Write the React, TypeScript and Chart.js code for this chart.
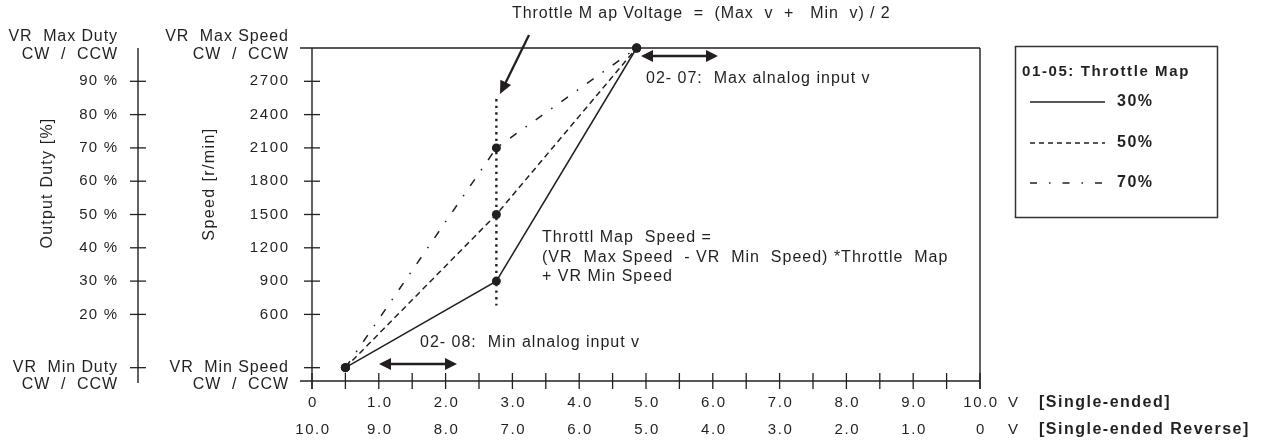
import React, { useEffect, useRef } from 'react';
import { Chart, registerables } from 'chart.js';

Chart.register(...registerables);

// ---- data ----
const voltTicks = [0, 0.5, 1, 1.5, 2, 2.5, 3, 3.5, 4, 4.5, 5, 5.5, 6, 6.5, 7, 7.5, 8, 8.5, 9, 9.5, 10];
const voltLabelValues = [0, 1, 2, 3, 4, 5, 6, 7, 8, 9, 10];
const singleEndedLabels = ['0', '1.0', '2.0', '3.0', '4.0', '5.0', '6.0', '7.0', '8.0', '9.0', '10.0'];
const reverseLabels = ['10.0', '9.0', '8.0', '7.0', '6.0', '5.0', '4.0', '3.0', '2.0', '1.0', '0'];
const speedTicks = [600, 900, 1200, 1500, 1800, 2100, 2400, 2700];
const speedLabels = ['600', '900', '1200', '1500', '1800', '2100', '2400', '2700'];
const dutyLabels = ['20 %', '30 %', '40 %', '50 %', '60 %', '70 %', '80 %', '90 %'];
const minSpeed = 120;
const maxSpeed = 3000;
const inputVolts = [0.5, 2.76, 4.86];
const speed30 = [120, 900, 3000];
const speed50 = [120, 1500, 3000];
const speed70 = [120, 2100, 3000];
const mapVoltageRange = [680, 2540];
const legendLabels = ['30%', '50%', '70%'];

const INK = '#231f20';
const FONT = '"Liberation Sans", Arial, sans-serif';

function pts(ys: number[]) {
  return inputVolts.map((x, i) => ({ x, y: ys[i] }));
}

function txt(ctx: CanvasRenderingContext2D, s: string, x: number, y: number, align: CanvasTextAlign, size: number, bold = false, ls = 1.5) {
  ctx.save();
  ctx.font = `${bold ? 'bold ' : ''}${size}px ${FONT}`;
  (ctx as any).letterSpacing = `${ls}px`;
  ctx.textAlign = align;
  ctx.textBaseline = 'middle';
  ctx.fillStyle = INK;
  ctx.fillText(s, align === 'right' ? x + ls : x, y);
  ctx.restore();
}

function line(ctx: CanvasRenderingContext2D, x1: number, y1: number, x2: number, y2: number, w = 1.2, dash: number[] = []) {
  ctx.save();
  ctx.strokeStyle = INK;
  ctx.lineWidth = w;
  ctx.setLineDash(dash);
  ctx.beginPath();
  ctx.moveTo(x1, y1);
  ctx.lineTo(x2, y2);
  ctx.stroke();
  ctx.restore();
}

function head(ctx: CanvasRenderingContext2D, tx: number, ty: number, fx: number, fy: number, len = 11, half = 5) {
  const a = Math.atan2(ty - fy, tx - fx);
  ctx.save();
  ctx.fillStyle = INK;
  ctx.beginPath();
  ctx.moveTo(tx, ty);
  ctx.lineTo(tx - len * Math.cos(a) + half * Math.sin(a), ty - len * Math.sin(a) - half * Math.cos(a));
  ctx.lineTo(tx - len * Math.cos(a) - half * Math.sin(a), ty - len * Math.sin(a) + half * Math.cos(a));
  ctx.closePath();
  ctx.fill();
  ctx.restore();
}

function doubleArrow(ctx: CanvasRenderingContext2D, x1: number, x2: number, y: number) {
  line(ctx, x1 + 8, y, x2 - 8, y, 2.4);
  head(ctx, x1, y, x2, y, 12, 6);
  head(ctx, x2, y, x1, y, 12, 6);
}

const decor = {
  id: 'decor',
  beforeDatasetsDraw(chart: any) {
    const ctx: CanvasRenderingContext2D = chart.ctx;
    const { left, right, top, bottom } = chart.chartArea;
    const xs = chart.scales.x;
    const ys = chart.scales.y;

    // frame / axes
    line(ctx, left - 12, top, right, top, 1.4);
    line(ctx, left - 12, bottom, right, bottom, 1.4);
    line(ctx, right, top, right, bottom + 8, 1.4);
    line(ctx, left, top, left, bottom + 8, 1.4);
    for (const v of voltTicks) {
      const px = xs.getPixelForValue(v);
      line(ctx, px, bottom - 8, px, bottom + 8, 1.3);
    }
    const dutyX = 138;
    line(ctx, dutyX, top, dutyX, bottom + 2, 1.4);
    for (const v of [...speedTicks, minSpeed]) {
      const py = ys.getPixelForValue(v);
      line(ctx, left - 8, py, left + 8, py, 1.3);
      line(ctx, dutyX - 8, py, dutyX + 8, py, 1.3);
    }
    speedTicks.forEach((v, i) => {
      const py = ys.getPixelForValue(v);
      txt(ctx, speedLabels[i], 288, py, 'right', 15, false, 1.6);
      txt(ctx, dutyLabels[i], 117, py, 'right', 15, false, 1.2);
    });
    const yMin = ys.getPixelForValue(minSpeed);
    txt(ctx, 'VR  Min Speed', 288, yMin, 'right', 16, false, 0.9);
    txt(ctx, 'CW  /  CCW', 288, yMin + 17, 'right', 16, false, 0.9);
    txt(ctx, 'VR  Min Duty', 117, yMin, 'right', 16, false, 0.9);
    txt(ctx, 'CW  /  CCW', 117, yMin + 17, 'right', 16, false, 0.9);
    txt(ctx, 'VR  Max Speed', 288, 37, 'right', 16, false, 0.9);
    txt(ctx, 'CW  /  CCW', 288, 55, 'right', 16, false, 0.9);
    txt(ctx, 'VR  Max Duty', 117, 37, 'right', 16, false, 0.9);
    txt(ctx, 'CW  /  CCW', 117, 55, 'right', 16, false, 0.9);

    // rotated axis titles
    ctx.save();
    ctx.translate(48, 183);
    ctx.rotate(-Math.PI / 2);
    txt(ctx, 'Output Duty [%]', 0, 0, 'center', 16, false, 1.2);
    ctx.restore();
    ctx.save();
    ctx.translate(210, 184);
    ctx.rotate(-Math.PI / 2);
    txt(ctx, 'Speed [r/min]', 0, 0, 'center', 16, false, 1.4);
    ctx.restore();

    // x labels
    voltLabelValues.forEach((v, i) => {
      const px = xs.getPixelForValue(v);
      txt(ctx, singleEndedLabels[i], px + 1, 403, 'center', 15, false, 1.6);
      txt(ctx, reverseLabels[i], px + 1, 430, 'center', 15, false, 1.6);
    });
    txt(ctx, 'V', 1013, 403, 'center', 15, false, 0);
    txt(ctx, 'V', 1013, 430, 'center', 15, false, 0);
    txt(ctx, '[Single-ended]', 1039, 403, 'left', 16, true, 1.5);
    txt(ctx, '[Single-ended Reverse]', 1039, 430, 'left', 16, true, 1.5);

    // map voltage dotted line
    const mx = xs.getPixelForValue(inputVolts[1]);
    line(ctx, mx, ys.getPixelForValue(mapVoltageRange[1]), mx, ys.getPixelForValue(mapVoltageRange[0]), 2.4, [2.4, 4.2]);

    // annotations
    txt(ctx, 'Throttle M ap Voltage  =  (Max  v  +   Min  v) / 2', 512, 14, 'left', 16, false, 0.9);
    line(ctx, 529, 35, 503, 88, 2.3);
    head(ctx, 500, 94, 529, 35, 13, 6);

    doubleArrow(ctx, 641, 718, 56);
    txt(ctx, '02- 07:  Max alnalog input v', 646, 79, 'left', 16, false, 1);
    doubleArrow(ctx, 379, 457, 364);
    txt(ctx, '02- 08:  Min alnalog input v', 420, 343, 'left', 16, false, 1);

    txt(ctx, 'Throttl Map  Speed =', 542, 238, 'left', 16, false, 1);
    txt(ctx, '(VR  Max Speed  - VR  Min  Speed) *Throttle  Map', 542, 258, 'left', 16, false, 1);
    txt(ctx, '+ VR Min Speed', 542, 277, 'left', 16, false, 1);

    // legend box
    ctx.save();
    ctx.strokeStyle = '#333';
    ctx.lineWidth = 1.5;
    ctx.strokeRect(1015.5, 46.5, 202, 171);
    ctx.restore();
    txt(ctx, '01-05: Throttle Map', 1022, 72, 'left', 15, true, 1.6);
    const dashes = [[], [5, 4], [7, 12, 1.5, 12]];
    const ly = [102, 143, 183];
    legendLabels.forEach((lab, i) => {
      line(ctx, 1030, ly[i], 1105, ly[i], 1.3, dashes[i]);
      txt(ctx, lab, 1117, ly[i], 'left', 16, true, 1.5);
    });
  },
};

export default function App() {
  const ref = useRef<HTMLCanvasElement>(null);
  useEffect(() => {
    if (!ref.current) return;
    const common = {
      borderColor: INK,
      borderWidth: 1.5,
      pointRadius: 4.5,
      pointBackgroundColor: INK,
      pointBorderColor: INK,
      pointBorderWidth: 0,
      tension: 0,
      fill: false,
      clip: false as any,
    };
    const chart = new Chart(ref.current, {
      type: 'line',
      data: {
        datasets: [
          { ...common, label: legendLabels[0], data: pts(speed30) },
          { ...common, label: legendLabels[1], data: pts(speed50), borderDash: [6, 4] },
          { ...common, label: legendLabels[2], data: pts(speed70), borderDash: [8, 11, 1.5, 11] },
        ],
      },
      options: {
        animation: false,
        responsive: false,
        devicePixelRatio: 1,
        layout: { padding: { left: 312, right: 287, top: 48, bottom: 65 } },
        scales: {
          x: { type: 'linear', min: 0, max: 10, display: false },
          y: { type: 'linear', min: 0, max: maxSpeed, display: false },
        },
        plugins: { legend: { display: false }, tooltip: { enabled: false } },
        events: [],
      },
      plugins: [decor],
    });
    return () => chart.destroy();
  }, []);
  return (
    <div style={{ position: 'absolute', left: 0, top: 0, width: 1267, height: 446, background: '#fff' }}>
      <canvas ref={ref} width={1267} height={446} style={{ display: 'block' }} />
    </div>
  );
}
